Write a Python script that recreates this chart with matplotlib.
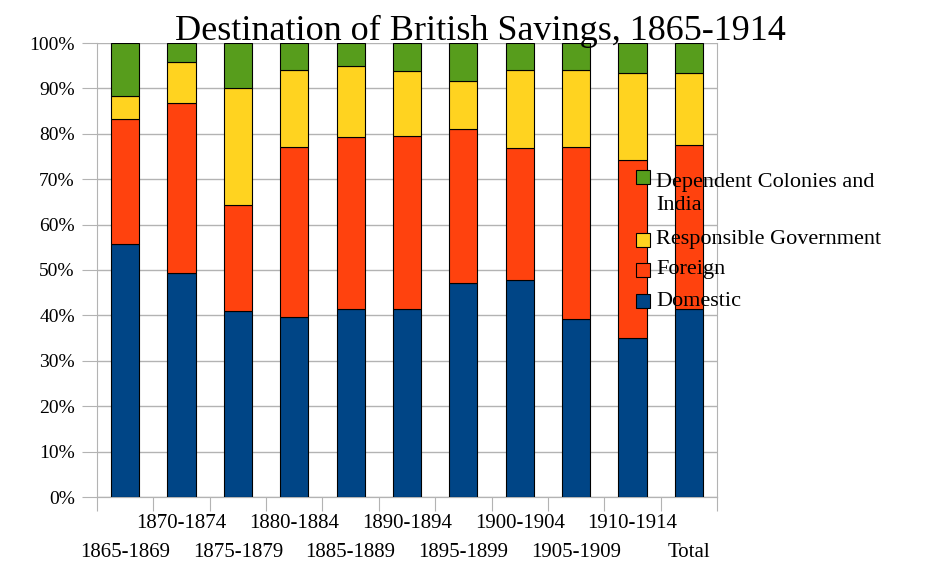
import matplotlib
matplotlib.use("Agg")
import matplotlib.pyplot as plt
from matplotlib.patches import Rectangle
import numpy as np

# Destination of British Savings, shares in %
periods = ["1865-1869", "1870-1874", "1875-1879", "1880-1884", "1885-1889",
           "1890-1894", "1895-1899", "1900-1904", "1905-1909", "1910-1914", "Total"]
domestic = [55.7, 49.3, 41.0, 39.6, 41.5, 41.3, 47.1, 47.8, 39.2, 35.1, 41.3]
foreign = [27.5, 37.5, 23.3, 37.5, 37.8, 38.2, 33.9, 29.1, 37.9, 39.2, 36.2]
responsible = [5.2, 9.0, 25.7, 17.0, 15.7, 14.3, 10.6, 17.1, 16.9, 19.2, 16.0]
dependent = [11.6, 4.2, 10.0, 5.9, 5.0, 6.2, 8.4, 6.0, 6.0, 6.5, 6.5]

series_names = ["Domestic", "Foreign", "Responsible Government", "Dependent Colonies and\nIndia"]
series_colors = ["#004586", "#ff420e", "#ffd320", "#579d1c"]
y_ticks = [0, 10, 20, 30, 40, 50, 60, 70, 80, 90, 100]
y_labels = ["0%", "10%", "20%", "30%", "40%", "50%", "60%", "70%", "80%", "90%", "100%"]

plt.rcParams["font.family"] = ["Liberation Serif", "DejaVu Serif"]

W, H = 942, 561
fig = plt.figure(figsize=(W / 100, H / 100), dpi=100)
ax = fig.add_axes([97 / W, 1 - 497 / H, 620 / W, 454 / H])

x = np.arange(len(periods))
bottom = np.zeros(len(periods))
for vals, name, col in zip([domestic, foreign, responsible, dependent], series_names, series_colors):
    ax.bar(x, vals, 0.5, bottom=bottom, color=col, edgecolor="black", linewidth=0.8,
           label=name, zorder=3)
    bottom += np.array(vals)

ax.set_xlim(-0.5, len(periods) - 0.5)
ax.set_ylim(0, 100)

ax.set_yticks(y_ticks)
ax.set_yticklabels(y_labels, fontsize=14)
ax.yaxis.grid(True, color="#b3b3b3", linewidth=1, zorder=0)
ax.tick_params(axis="y", length=11, color="#b3b3b3", pad=5)

# staggered category labels: even ones on the lower row, odd ones on the upper row
ax.set_xticks(x[::2])
ax.set_xticklabels(periods[::2], fontsize=15)
ax.set_xticks(x[1::2], minor=True)
ax.set_xticklabels(periods[1::2], minor=True, fontsize=15)
ax.tick_params(axis="x", which="major", length=0, pad=33)
ax.tick_params(axis="x", which="minor", length=0, pad=12.5)

# boundary tick marks
sec = ax.secondary_xaxis("bottom")
sec.set_xticks(np.arange(-0.5, len(periods)))
sec.set_xticklabels([])
sec.tick_params(length=10, color="#b3b3b3")
sec.spines["bottom"].set_color("#b3b3b3")

for s in ["left", "right", "bottom"]:
    ax.spines[s].set_color("#b3b3b3")
ax.spines["top"].set_visible(False)

fig.text(480 / W, 1 - 40 / H, "Destination of British Savings, 1865-1914",
         fontsize=26, ha="center", va="baseline")

# legend, top entry first, drawn over the bars like the reference
leg_y = [301, 270, 240, 177]
text_y = [301, 270, 240, 194]
for name, col, yc, ty in zip(series_names, series_colors, leg_y, text_y):
    fig.patches.append(Rectangle((636 / W, 1 - (yc + 7) / H), 14 / W, 14 / H,
                                 transform=fig.transFigure, facecolor=col,
                                 edgecolor="black", linewidth=0.8, zorder=5))
    fig.text(656 / W, 1 - ty / H, name, fontsize=16, ha="left", va="center",
             linespacing=1.22, zorder=5)

fig.savefig("out.png", dpi=100)
